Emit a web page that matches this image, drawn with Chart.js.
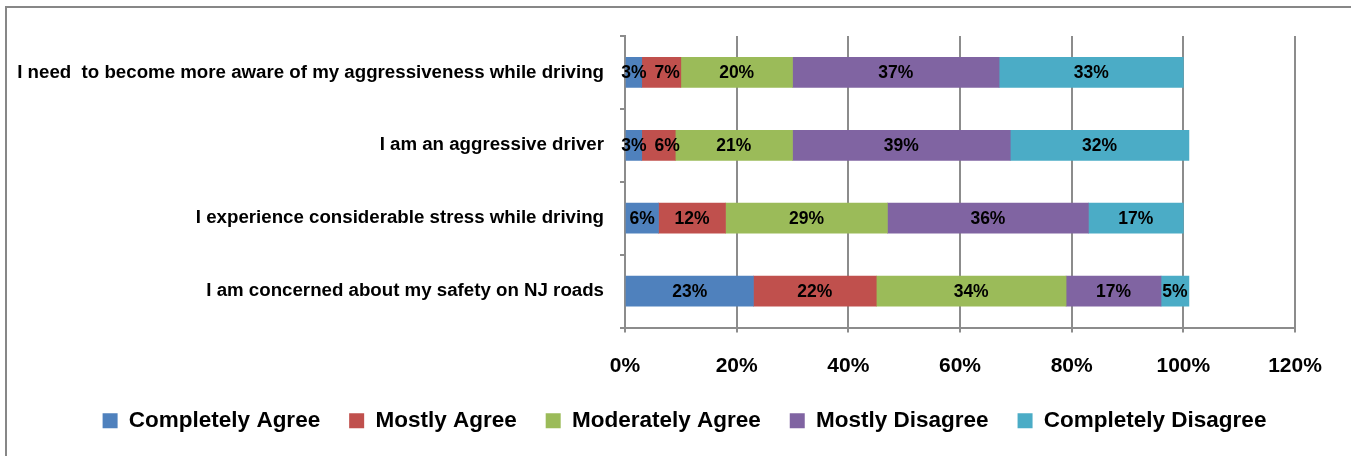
<!DOCTYPE html>
<html>
<head>
<meta charset="utf-8">
<script src="https://cdn.jsdelivr.net/npm/chart.js@4.4.0/dist/chart.umd.min.js"></script>
<style>
  html, body { margin: 0; padding: 0; background: #fff; }
  #wrap { position: relative; width: 1351px; height: 456px; overflow: hidden; }
  #frame {
    position: absolute; left: 5px; top: 6px; width: 1400px; height: 500px;
    border-left: 2px solid #878787; border-top: 2px solid #878787;
  }
  canvas { position: absolute; left: 0; top: 0; }
</style>
</head>
<body>
<div id="wrap">
  <div id="frame"></div>
  <canvas id="chart" width="1351" height="456"></canvas>
</div>
<script>
// Data
const categories = [
    'I need  to become more aware of my aggressiveness while driving',
    'I am an aggressive driver',
    'I experience considerable stress while driving',
    'I am concerned about my safety on NJ roads'
];
const seriesNames = ['Completely Agree', 'Mostly Agree', 'Moderately Agree', 'Mostly Disagree', 'Completely Disagree'];
const completelyAgree = [3, 3, 6, 23];
const mostlyAgree = [7, 6, 12, 22];
const moderatelyAgree = [20, 21, 29, 34];
const mostlyDisagree = [37, 39, 36, 17];
const completelyDisagree = [33, 32, 17, 5];
const xTicks = [0, 20, 40, 60, 80, 100, 120];

const colors = ['#4F81BD', '#C0504D', '#9BBB59', '#8064A2', '#4BACC6'];
const FONT = "'Liberation Sans', Arial, sans-serif";
const GRID = '#8C8C8C';
const LEGEND_SHIFT = 37;

const allSeries = [completelyAgree, mostlyAgree, moderatelyAgree, mostlyDisagree, completelyDisagree];

// Draw value labels in the middle of each bar segment, nudging crowded ones right
const valueLabels = {
    id: 'valueLabels',
    afterDatasetsDraw(chart) {
        const ctx = chart.ctx;
        ctx.save();
        ctx.font = 'bold 17.5px ' + FONT;
        ctx.fillStyle = '#000';
        ctx.textAlign = 'center';
        ctx.textBaseline = 'middle';
        const lastRight = categories.map(() => -Infinity);
        chart.data.datasets.forEach((ds, i) => {
            const meta = chart.getDatasetMeta(i);
            meta.data.forEach((bar, j) => {
                const text = ds.data[j] + '%';
                const w = ctx.measureText(text).width;
                let x = (bar.x + bar.base) / 2;
                if (x - w / 2 < lastRight[j] + 8) x = lastRight[j] + 8 + w / 2;
                lastRight[j] = x + w / 2;
                ctx.fillText(text, x, bar.y + 1);
            });
        });
        ctx.restore();
    }
};

// Legend in the original sits a little right of centre
const legendShift = {
    id: 'legendShift',
    afterLayout(chart) {
        chart.legend.left += LEGEND_SHIFT;
        chart.legend.right += LEGEND_SHIFT;
    }
};

new Chart(document.getElementById('chart'), {
    type: 'bar',
    data: {
        labels: categories,
        datasets: allSeries.map((values, i) => ({
            label: seriesNames[i],
            data: values,
            backgroundColor: colors[i],
            borderWidth: 0,
            barThickness: 30
        }))
    },
    options: {
        indexAxis: 'y',
        responsive: false,
        animation: false,
        layout: { padding: { top: 36, right: 56, left: 0, bottom: 14 } },
        plugins: {
            tooltip: { enabled: false },
            legend: {
                position: 'bottom',
                labels: {
                    boxWidth: 15,
                    boxHeight: 15,
                    padding: 29,
                    color: '#000',
                    font: { family: FONT, size: 22.5, weight: 'bold' }
                }
            }
        },
        scales: {
            x: {
                stacked: true,
                min: 0,
                max: 120,
                afterBuildTicks: s => { s.ticks = xTicks.map(v => ({ value: v })); },
                afterFit: s => { s.height = 53; },
                ticks: {
                    padding: 21,
                    color: '#000',
                    font: { family: FONT, size: 21, weight: 'bold' },
                    callback: v => v + '%'
                },
                grid: { color: GRID, lineWidth: 2, tickLength: 5 },
                border: { color: GRID, width: 2 }
            },
            y: {
                stacked: true,
                afterFit: s => { s.width = 625; },
                ticks: {
                    padding: 16,
                    color: '#000',
                    font: { family: FONT, size: 18.7, weight: 'bold' }
                },
                grid: { offset: true, drawOnChartArea: false, color: GRID, lineWidth: 2, tickLength: 5 },
                border: { color: GRID, width: 2 }
            }
        }
    },
    plugins: [valueLabels, legendShift]
});
</script>
</body>
</html>
